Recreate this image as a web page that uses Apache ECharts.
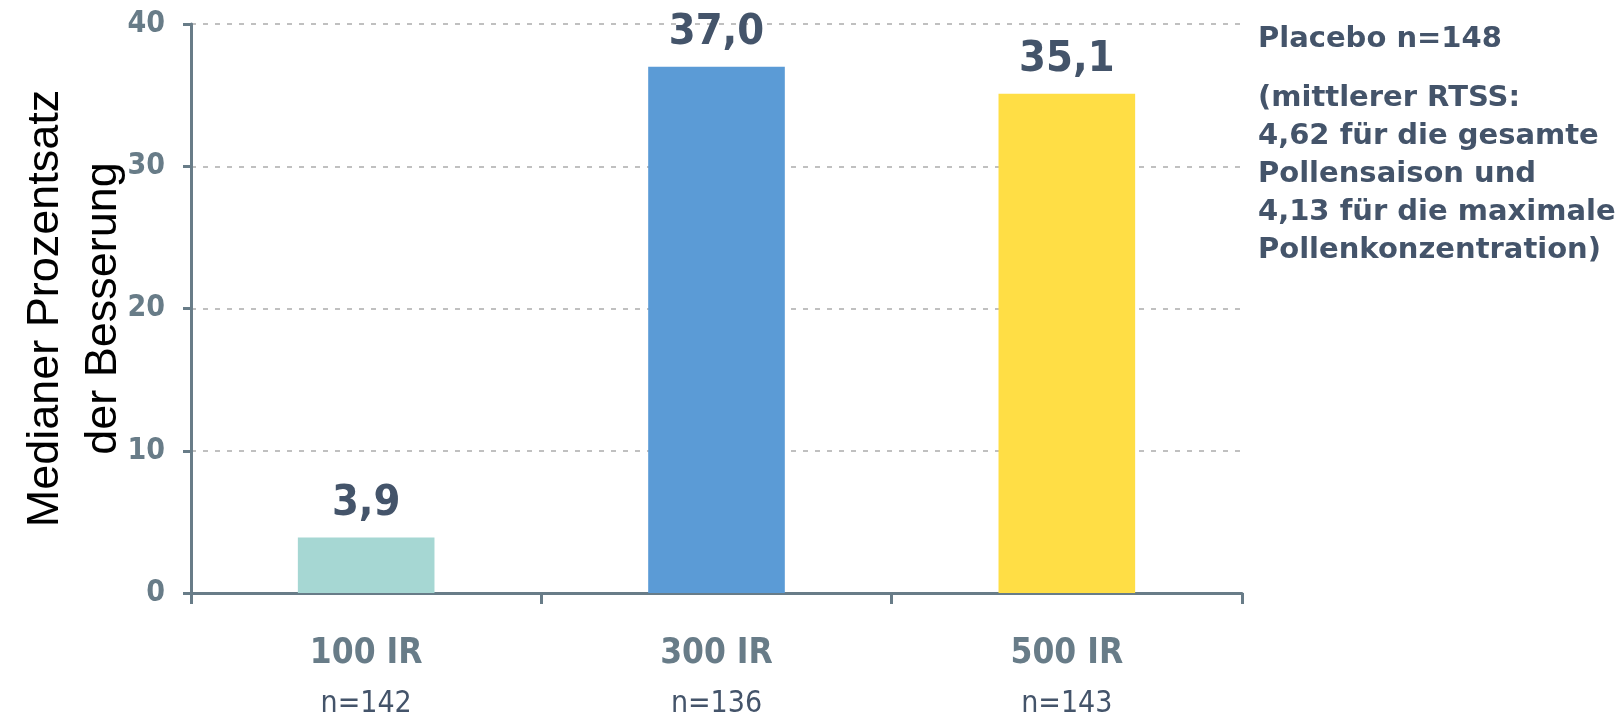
<!DOCTYPE html>
<html>
<head>
<meta charset="utf-8">
<title>Medianer Prozentsatz der Besserung</title>
<script src="https://cdn.jsdelivr.net/npm/echarts@6/dist/echarts.min.js"></script>
<style>
    html, body { margin: 0; padding: 0; background: #fff; }
    #zt { width: 1620px; height: 718px; }
</style>
</head>
<body>
<div id="zt"></div>
<script>
// 数据
var doses = ['100 IR', '300 IR', '500 IR'];
var patients = ['n=142', 'n=136', 'n=143'];
var besserung = [3.9, 37.0, 35.1];
var barColors = ['#a6d7d3', '#5b9bd6', '#ffde45'];
var placeboText = 'Placebo n=148';
var placeboNote = ['(mittlerer RTSS:', '4,62 für die gesamte', 'Pollensaison und', '4,13 für die maximale', 'Pollenkonzentration)'];

var narrow = "'DejaVu Sans Condensed', 'DejaVu Sans', sans-serif";
var axisGrey = '#687c88';
var navy = '#44546a';

var myChart = echarts.init(document.getElementById("zt"));
var option = {
    animation: false,
    title: {
        text: placeboText,
        subtext: placeboNote.join('\n'),
        left: 1258,
        top: 20,
        itemGap: 21,
        padding: 0,
        textStyle: {
            fontFamily: "'DejaVu Sans', sans-serif",
            fontWeight: 'bold',
            fontSize: 29,
            lineHeight: 38,
            color: navy
        },
        subtextStyle: {
            fontFamily: "'DejaVu Sans', sans-serif",
            fontWeight: 'bold',
            fontSize: 29,
            lineHeight: 38,
            color: navy
        }
    },
    grid: {
        left: 191,
        right: 378,
        top: 24,
        bottom: 125,
        outerBoundsMode: 'none'
    },
    xAxis: {
        type: 'category',
        data: doses,
        axisLine: {
            lineStyle: { color: axisGrey, width: 3 }
        },
        axisTick: {
            show: true,
            length: 11,
            lineStyle: { color: axisGrey, width: 3 }
        },
        axisLabel: {
            margin: 36,
            formatter: function (value, idx) {
                return '{a|' + value + '}\n{b|' + patients[idx] + '}';
            },
            rich: {
                a: {
                    fontFamily: narrow,
                    fontWeight: 'bold',
                    fontSize: 35,
                    lineHeight: 50,
                    color: axisGrey
                },
                b: {
                    fontFamily: narrow,
                    fontSize: 30,
                    lineHeight: 50,
                    color: navy
                }
            }
        }
    },
    yAxis: {
        type: 'value',
        min: 0,
        max: 40,
        interval: 10,
        name: 'Medianer Prozentsatz\nder Besserung',
        nameLocation: 'middle',
        nameGap: 58,
        nameMoveOverlap: false,
        nameRotate: 90,
        nameTextStyle: {
            fontFamily: "'Liberation Sans', Arial, sans-serif",
            fontSize: 45,
            lineHeight: 58,
            color: '#000'
        },
        axisLine: {
            show: true,
            lineStyle: { color: axisGrey, width: 3 }
        },
        axisTick: {
            show: true,
            length: 8,
            lineStyle: { color: axisGrey, width: 3 }
        },
        axisLabel: {
            margin: 26,
            fontFamily: narrow,
            fontWeight: 'bold',
            fontSize: 30,
            color: axisGrey
        },
        splitLine: {
            show: true,
            lineStyle: { color: '#c0c0c0', width: 2, type: [5, 7] }
        }
    },
    series: [
        {
            name: 'Besserung',
            type: 'bar',
            barWidth: '39%',
            data: besserung.map(function (v, i) {
                return { value: v, itemStyle: { color: barColors[i] } };
            }),
            label: {
                show: true,
                position: 'top',
                distance: 12,
                formatter: function (p) {
                    return p.value.toFixed(1).replace('.', ',');
                },
                fontFamily: narrow,
                fontWeight: 'bold',
                fontSize: 43,
                color: navy
            }
        }
    ]
};
if (option && typeof option === "object") {
    myChart.setOption(option, true);
}
</script>
</body>
</html>
